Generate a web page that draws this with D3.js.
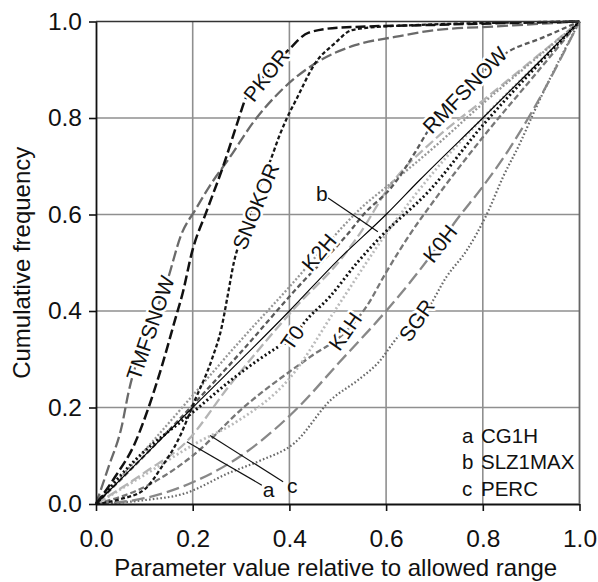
<!DOCTYPE html>
<html><head><meta charset="utf-8">
<script src="https://cdn.jsdelivr.net/npm/d3@7"></script>
<style>body{margin:0;background:#fff}svg{display:block}text{font-family:"Liberation Sans",Arial,sans-serif;fill:#111}</style>
</head><body><svg id="c" width="598" height="582"></svg>
<script>
const xTicks=[0,0.2,0.4,0.6,0.8,1.0];
const yTicks=[0,0.2,0.4,0.6,0.8,1.0];
const TMFSNOW=[[0,0],[0.026,0.077],[0.053,0.16],[0.067,0.23],[0.11,0.365],[0.146,0.458],[0.177,0.56],[0.205,0.609],[0.239,0.665],[0.273,0.713],[0.329,0.796],[0.384,0.858],[0.453,0.913],[0.536,0.951],[0.618,0.968],[0.7,0.982],[0.83,0.99],[1,1]];
const PKOR=[[0,0],[0.04,0.057],[0.08,0.125],[0.107,0.195],[0.136,0.285],[0.163,0.38],[0.18,0.44],[0.198,0.52],[0.23,0.61],[0.263,0.70],[0.294,0.795],[0.308,0.837],[0.35,0.89],[0.397,0.94],[0.44,0.977],[0.5,0.987],[0.7,0.993],[1,1]];
const SNOKOR=[[0,0],[0.05,0.01],[0.1,0.03],[0.136,0.077],[0.17,0.133],[0.205,0.216],[0.239,0.298],[0.26,0.367],[0.272,0.43],[0.285,0.5],[0.31,0.575],[0.335,0.65],[0.36,0.71],[0.38,0.765],[0.395,0.8],[0.415,0.84],[0.453,0.913],[0.494,0.955],[0.529,0.982],[0.6,0.99],[1,1]];
const RMFSNOW=[[0,0],[0.1,0.1],[0.2,0.205],[0.3,0.315],[0.418,0.45],[0.521,0.56],[0.556,0.603],[0.61,0.655],[0.659,0.727],[0.684,0.769],[0.763,0.858],[0.852,0.937],[0.92,0.965],[1,1]];
const K2H=[[0,0],[0.1,0.11],[0.2,0.225],[0.3,0.34],[0.4,0.45],[0.463,0.522],[0.55,0.615],[0.618,0.671],[0.7,0.74],[0.8,0.83],[0.9,0.915],[1,1]];
const T0=[[0,0],[0.08,0.09],[0.2,0.19],[0.29,0.265],[0.377,0.326],[0.408,0.345],[0.43,0.375],[0.484,0.43],[0.54,0.5],[0.59,0.555],[0.69,0.65],[0.8,0.785],[0.9,0.895],[1,1]];
const SLZ1MAX=[[0,0],[0.2,0.2],[0.4,0.4],[0.5,0.505],[0.6,0.6],[0.67,0.672],[0.8,0.8],[1,1]];
const CG1H=[[0,0],[0.1,0.065],[0.188,0.13],[0.274,0.243],[0.41,0.405],[0.511,0.513],[0.546,0.561],[0.608,0.66],[0.7,0.755],[0.8,0.836],[0.9,0.918],[1,1]];
const PERC=[[0,0],[0.1,0.06],[0.207,0.126],[0.29,0.17],[0.4,0.26],[0.5,0.41],[0.6,0.56],[0.7,0.69],[0.8,0.8],[0.9,0.9],[1,1]];
const K1H=[[0,0],[0.1,0.035],[0.2,0.1],[0.305,0.2],[0.443,0.305],[0.515,0.356],[0.56,0.41],[0.6,0.48],[0.65,0.56],[0.7,0.63],[0.8,0.76],[0.9,0.88],[1,1]];
const K0H=[[0,0],[0.1,0.012],[0.2,0.045],[0.3,0.1],[0.418,0.2],[0.5,0.29],[0.6,0.4],[0.65,0.46],[0.711,0.54],[0.746,0.589],[0.8,0.658],[0.849,0.727],[0.904,0.817],[1,1]];
const SGR=[[0,0],[0.1,0.008],[0.184,0.022],[0.274,0.064],[0.34,0.09],[0.41,0.126],[0.486,0.216],[0.542,0.257],[0.583,0.292],[0.625,0.347],[0.663,0.381],[0.684,0.402],[0.725,0.471],[0.767,0.526],[0.808,0.6],[0.842,0.678],[0.877,0.748],[0.908,0.817],[1,1]];
const legendKeys=["a","b","c"];
const legendNames=["CG1H","SLZ1MAX","PERC"];

const series=[
 {d:SGR,c:"#6a6a6a",w:2.2,dash:"1.6,2.2"},
 {d:K0H,c:"#888",w:2.3,dash:"13,5"},
 {d:K1H,c:"#777",w:2.3,dash:"6,3"},
 {d:PERC,c:"#bbb",w:2.7,dash:"2,2.5"},
 {d:CG1H,c:"#b5b5b5",w:2.3,dash:"10,4"},
 {d:K2H,c:"#979797",w:2.3,dash:"2,2"},
 {d:RMFSNOW,c:"#5a5a5a",w:2.3,dash:"5,3"},
 {d:T0,c:"#111",w:2.9,dash:"2,2.6"},
 {d:SLZ1MAX,c:"#000",w:1.1,dash:null},
 {d:TMFSNOW,c:"#6a6a6a",w:2.3,dash:"11,4"},
 {d:SNOKOR,c:"#161616",w:2.3,dash:"4,2.4"},
 {d:PKOR,c:"#111",w:2.5,dash:"10,4"}
];
const labels=[
 {t:"TMFSNOW",x:0.112,y:0.365,a:-71},
 {t:"PKOR",x:0.352,y:0.889,a:-52},
 {t:"SNOKOR",x:0.330,y:0.617,a:-68},
 {t:"RMFSNOW",x:0.763,y:0.858,a:-46},
 {t:"K2H",x:0.461,y:0.522,a:-50},
 {t:"T0",x:0.406,y:0.345,a:-55},
 {t:"K1H",x:0.515,y:0.358,a:-55},
 {t:"K0H",x:0.711,y:0.540,a:-52},
 {t:"SGR",x:0.663,y:0.381,a:-55}
];

const svg=d3.select("#c");
const x=d3.scaleLinear().domain([0,1]).range([96,579.5]);
const y=d3.scaleLinear().domain([0,1]).range([504,21.5]);

const g=svg.append("g");
g.selectAll(".vg").data(xTicks.slice(1,-1)).enter().append("line")
 .attr("x1",d=>x(d)).attr("x2",d=>x(d)).attr("y1",y(0)).attr("y2",y(1))
 .attr("stroke","#8f8f8f").attr("stroke-width",1.6);
g.selectAll(".hg").data(yTicks.slice(1,-1)).enter().append("line")
 .attr("y1",d=>y(d)).attr("y2",d=>y(d)).attr("x1",x(0)).attr("x2",x(1))
 .attr("stroke","#8f8f8f").attr("stroke-width",1.6);

const line=d3.line().x(d=>x(d[0])).y(d=>y(d[1])).curve(d3.curveMonotoneX);
svg.append("g").selectAll("path").data(series).enter().append("path")
 .attr("d",s=>line(s.d)).attr("fill","none").attr("stroke",s=>s.c)
 .attr("stroke-width",s=>s.w).attr("stroke-dasharray",s=>s.dash);

svg.append("g").selectAll("text").data(labels).enter().append("text")
 .attr("transform",d=>`translate(${x(d.x)},${y(d.y)}) rotate(${d.a})`)
 .attr("text-anchor","middle").attr("dy","0.36em")
 .attr("font-size",21).attr("stroke","#fff").attr("stroke-width",5)
 .attr("paint-order","stroke").attr("stroke-linejoin","round")
 .text(d=>d.t);

const ax=svg.append("g").attr("transform",`translate(0,${y(0)})`)
 .call(d3.axisBottom(x).tickValues(xTicks).tickFormat(d3.format(".1f")).tickSize(7).tickPadding(19).tickSizeOuter(0));
const ay=svg.append("g").attr("transform",`translate(${x(0)},0)`)
 .call(d3.axisLeft(y).tickValues(yTicks).tickFormat(d3.format(".1f")).tickSize(7).tickPadding(7).tickSizeOuter(0));
[ax,ay].forEach(a=>{
 a.selectAll("text").attr("font-size",24.5).attr("font-family","Liberation Sans, Arial, sans-serif").attr("fill","#111");
 a.selectAll("line").attr("stroke","#111").attr("stroke-width",1.6);
 a.select(".domain").attr("stroke","#111").attr("stroke-width",1.8);
});
svg.append("line").attr("x1",x(0)).attr("x2",x(1)).attr("y1",y(1)).attr("y2",y(1)).attr("stroke","#333").attr("stroke-width",1.6);
svg.append("line").attr("x1",x(1)).attr("x2",x(1)).attr("y1",y(0)).attr("y2",y(1)).attr("stroke","#666").attr("stroke-width",1.8);

svg.append("text").attr("x",(x(0)+x(1))/2-2).attr("y",576).attr("text-anchor","middle").attr("font-size",24)
 .text("Parameter value relative to allowed range");
svg.append("text").attr("transform",`translate(30,${(y(0)+y(1))/2}) rotate(-90)`).attr("text-anchor","middle").attr("font-size",24)
 .text("Cumulative frequency");

const ptr=[
 {from:[0.188,0.129],to:[0.343,0.039]},
 {from:[0.583,0.564],to:[0.48,0.634]},
 {from:[0.236,0.142],to:[0.387,0.046]}
];
svg.append("g").selectAll("line").data(ptr).enter().append("line")
 .attr("x1",d=>x(d.from[0])).attr("y1",d=>y(d.from[1])).attr("x2",d=>x(d.to[0])).attr("y2",d=>y(d.to[1]))
 .attr("stroke","#111").attr("stroke-width",1.2);
const ptrLab=[{t:"a",x:0.345,y:0.014},{t:"b",x:0.455,y:0.627},{t:"c",x:0.395,y:0.022}];
svg.append("g").selectAll("text").data(ptrLab).enter().append("text")
 .attr("x",d=>x(d.x)).attr("y",d=>y(d.y)).attr("font-size",21).text(d=>d.t);

const lg=svg.append("g");
legendKeys.forEach((k,i)=>{
 lg.append("text").attr("x",462).attr("y",443+i*26.3).attr("font-size",20.5).text(k);
 lg.append("text").attr("x",481).attr("y",443+i*26.3).attr("font-size",20.5).text(legendNames[i]);
});
</script></body></html>
